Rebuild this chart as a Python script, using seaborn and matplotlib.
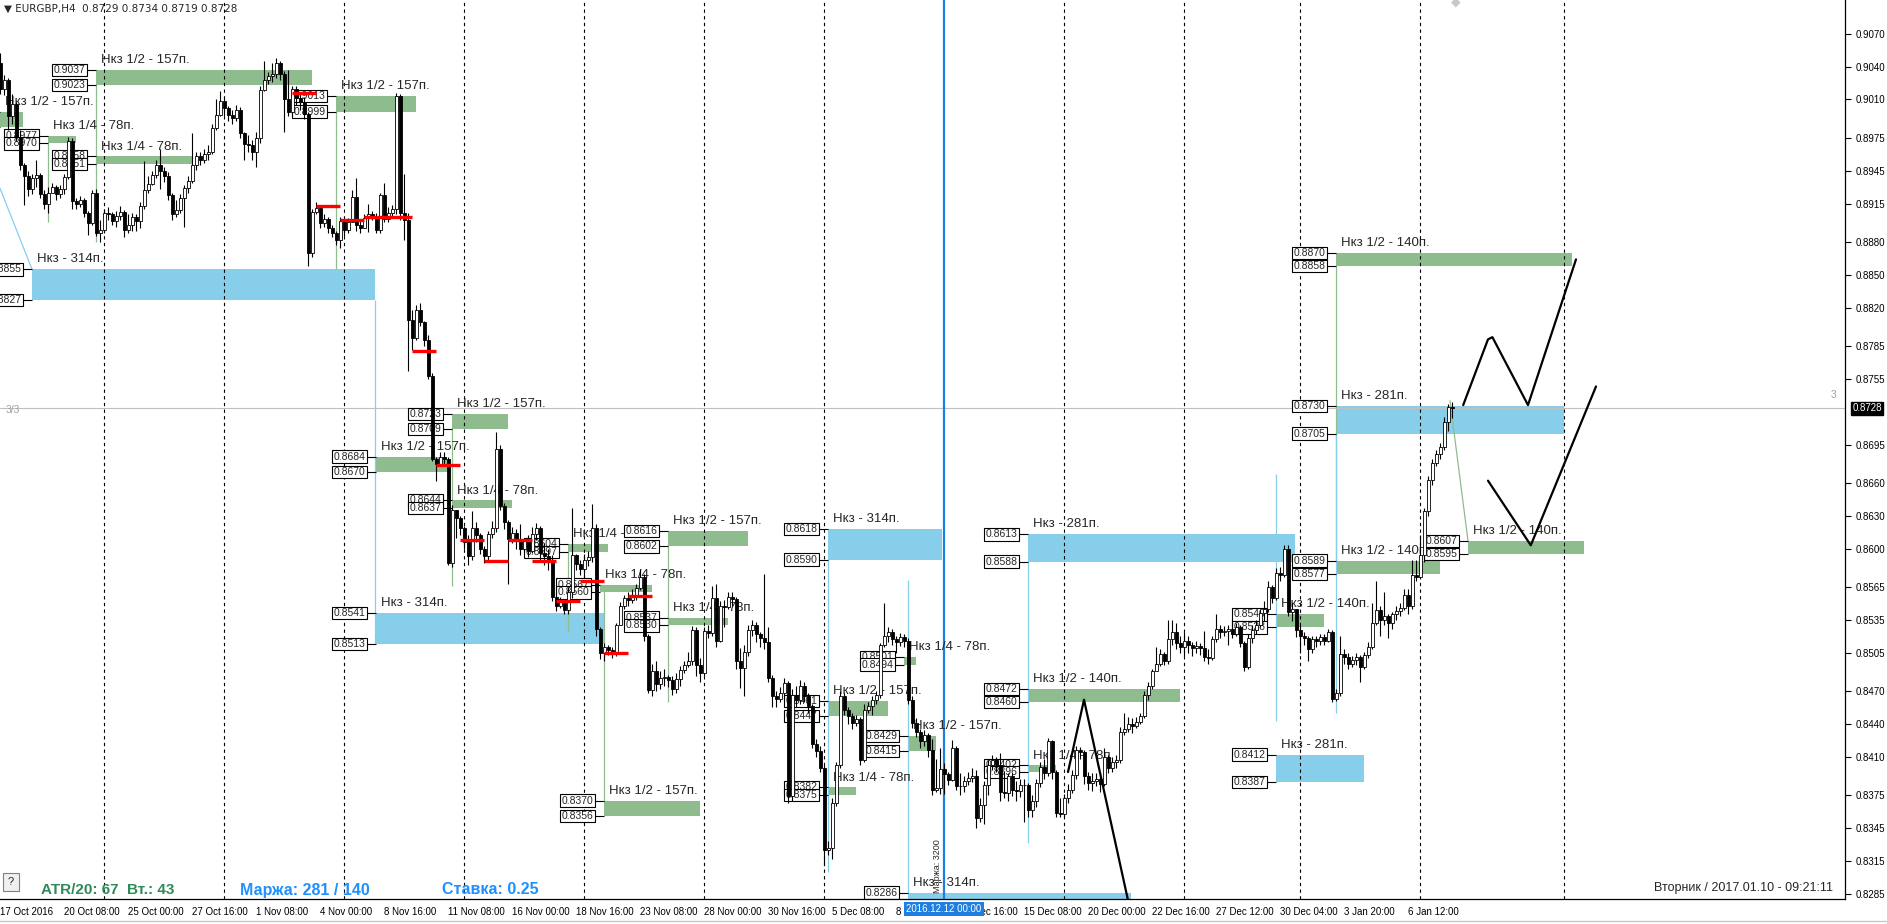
import matplotlib
matplotlib.use("Agg")
import matplotlib.pyplot as plt
import matplotlib.transforms as mtransforms
from matplotlib.patches import Rectangle
import seaborn as sns

# EURGBP H4 candles, bar 0 = 17 Oct 16:00, prices in pips (9020 -> 0.9020)
first_open = 9043
close_pips = [
    9020, 9028, 8995, 9006, 8976, 8950, 8940, 8928, 8938, 8941,
    8924, 8915, 8925, 8930, 8924, 8928, 8939, 8972, 8917, 8915,
    8918, 8906, 8897, 8925, 8888, 8891, 8906, 8905, 8899, 8904,
    8907, 8891, 8895, 8903, 8899, 8913, 8927, 8933, 8941, 8950,
    8945, 8940, 8923, 8905, 8909, 8920, 8929, 8936, 8950, 8958,
    8955, 8960, 8962, 8984, 8996, 9009, 9002, 8996, 8993, 9000,
    8979, 8969, 8968, 8962, 8975, 9019, 9028, 9031, 9033, 9043,
    9033, 9010, 8999, 9020, 9011, 9008, 8997, 8870, 8907, 8911,
    8897, 8901, 8893, 8888, 8882, 8899, 8891, 8898, 8921, 8895,
    8893, 8902, 8905, 8904, 8891, 8923, 8901, 8906, 8910, 9013,
    8906, 8900, 8809, 8792, 8818, 8807, 8790, 8758, 8682, 8677,
    8684, 8682, 8587, 8635, 8628, 8619, 8606, 8593, 8619, 8612,
    8600, 8593, 8613, 8619, 8691, 8639, 8624, 8609, 8614, 8609,
    8600, 8607, 8598, 8613, 8619, 8596, 8593, 8590, 8556, 8548,
    8551, 8544, 8560, 8594, 8586, 8581, 8590, 8592, 8619, 8527,
    8505, 8510, 8507, 8506, 8530, 8548, 8555, 8553, 8558, 8564,
    8574, 8520, 8471, 8488, 8476, 8482, 8483, 8480, 8472, 8481,
    8489, 8494, 8497, 8526, 8494, 8486, 8525, 8523, 8555, 8516,
    8548, 8547, 8556, 8554, 8497, 8491, 8506, 8526, 8530, 8522,
    8518, 8515, 8482, 8465, 8463, 8468, 8477, 8374, 8466, 8462,
    8475, 8465, 8456, 8422, 8415, 8400, 8325, 8327, 8368, 8402,
    8465, 8453, 8447, 8441, 8444, 8407, 8453, 8456, 8462, 8466,
    8512, 8520, 8524, 8517, 8515, 8519, 8516, 8462, 8441, 8433,
    8424, 8430, 8416, 8380, 8381, 8399, 8394, 8389, 8418, 8383,
    8383, 8388, 8391, 8392, 8354, 8366, 8384, 8402, 8407, 8402,
    8378, 8377, 8392, 8380, 8379, 8384, 8384, 8361, 8370, 8386,
    8401, 8395, 8424, 8396, 8359, 8358, 8372, 8380, 8393, 8416,
    8414, 8392, 8386, 8388, 8390, 8385, 8410, 8400, 8405, 8407,
    8433, 8435, 8440, 8438, 8442, 8447, 8466, 8475, 8488, 8495,
    8504, 8497, 8517, 8524, 8514, 8510, 8516, 8512, 8509, 8511,
    8509, 8501, 8500, 8517, 8527, 8524, 8525, 8527, 8522, 8528,
    8514, 8492, 8518, 8526, 8530, 8541, 8545, 8565, 8555, 8578,
    8576, 8600, 8542, 8545, 8526, 8520, 8518, 8508, 8517, 8516,
    8519, 8516, 8524, 8463, 8468, 8504, 8501, 8495, 8498, 8501,
    8492, 8503, 8510, 8532, 8544, 8535, 8538, 8532, 8540, 8543,
    8546, 8558, 8548, 8576, 8574, 8594, 8634, 8663, 8678, 8686,
    8693, 8716, 8729, 8728,
]
high_pips = [
    9052, 9032, 9030, 9015, 9008, 8982, 8952, 8945, 8942, 8955,
    8943, 8927, 8930, 8934, 8932, 8932, 8942, 8976, 8975, 8920,
    8922, 8920, 8908, 8927, 8928, 8900, 8910, 8912, 8907, 8908,
    8913, 8909, 8905, 8906, 8905, 8916, 8954, 8940, 8945, 8955,
    8965, 8948, 8944, 8925, 8918, 8924, 8932, 8940, 8979, 8962,
    8962, 8965, 8968, 8988, 9010, 9018, 9012, 9004, 9000, 9005,
    9003, 8980, 8978, 8973, 8980, 9022, 9045, 9035, 9043, 9048,
    9045, 9036, 9037, 9022, 9022, 9015, 9012, 8999, 8910, 8916,
    8912, 8905, 8903, 8895, 8890, 8903, 8895, 8902, 8927, 8938,
    8900, 8905, 8915, 8908, 8906, 8925, 8934, 8912, 8914, 9016,
    9015, 8942, 8906, 8818, 8822, 8824, 8808, 8795, 8760, 8684,
    8688, 8688, 8684, 8640, 8632, 8630, 8621, 8612, 8634, 8624,
    8614, 8602, 8616, 8625, 8706, 8695, 8642, 8626, 8620, 8618,
    8622, 8610, 8612, 8620, 8623, 8621, 8605, 8600, 8594, 8560,
    8556, 8552, 8565, 8637, 8595, 8590, 8595, 8598, 8641, 8622,
    8528, 8514, 8512, 8510, 8532, 8551, 8558, 8560, 8563, 8568,
    8581, 8577, 8522, 8495, 8497, 8488, 8490, 8485, 8484, 8486,
    8493, 8497, 8506, 8529, 8528, 8500, 8528, 8530, 8566, 8568,
    8552, 8553, 8560, 8560, 8556, 8509, 8512, 8530, 8535, 8533,
    8524, 8577, 8528, 8485, 8470, 8474, 8482, 8479, 8472, 8475,
    8480, 8478, 8468, 8458, 8426, 8420, 8402, 8333, 8372, 8405,
    8470, 8468, 8455, 8450, 8448, 8446, 8458, 8460, 8465, 8470,
    8514, 8550, 8528, 8527, 8520, 8523, 8522, 8518, 8465, 8445,
    8435, 8434, 8432, 8426, 8408, 8418, 8404, 8396, 8425, 8420,
    8395, 8392, 8396, 8400, 8398, 8372, 8388, 8407, 8412, 8410,
    8413, 8397, 8395, 8395, 8388, 8390, 8390, 8386, 8375, 8390,
    8405, 8408, 8427, 8425, 8398, 8372, 8376, 8385, 8398, 8420,
    8419, 8416, 8396, 8395, 8395, 8396, 8418, 8412, 8410, 8412,
    8437, 8450, 8446, 8445, 8446, 8450, 8470, 8478, 8490, 8510,
    8508, 8506, 8535, 8535, 8532, 8520, 8524, 8520, 8515, 8516,
    8514, 8525, 8508, 8520, 8540, 8530, 8529, 8530, 8535, 8532,
    8530, 8516, 8522, 8530, 8535, 8545, 8552, 8570, 8567, 8582,
    8583, 8603, 8603, 8550, 8536, 8530, 8524, 8520, 8520, 8520,
    8522, 8522, 8527, 8526, 8472, 8520, 8508, 8505, 8502, 8505,
    8503, 8506, 8515, 8550, 8570, 8548, 8560, 8540, 8542, 8548,
    8550, 8563, 8563, 8590, 8590, 8612, 8637, 8666, 8682, 8690,
    8696, 8720, 8732, 8734,
]
low_pips = [
    9015, 9014, 8982, 8988, 8972, 8946, 8914, 8922, 8924, 8930,
    8920, 8910, 8906, 8925, 8918, 8920, 8924, 8937, 8910, 8910,
    8912, 8903, 8886, 8895, 8885, 8880, 8888, 8900, 8895, 8894,
    8900, 8884, 8888, 8890, 8890, 8893, 8910, 8925, 8932, 8938,
    8928, 8935, 8918, 8900, 8903, 8906, 8894, 8925, 8934, 8946,
    8950, 8952, 8955, 8960, 8982, 8995, 8995, 8990, 8988, 8990,
    8975, 8955, 8962, 8955, 8948, 8970, 9018, 9024, 9026, 9030,
    9028, 8980, 8995, 8995, 9005, 9000, 8992, 8858, 8866, 8905,
    8893, 8894, 8888, 8884, 8877, 8874, 8885, 8888, 8898, 8890,
    8888, 8896, 8889, 8900, 8888, 8888, 8898, 8898, 8903, 8905,
    8900, 8882, 8762, 8781, 8790, 8803, 8785, 8755, 8680, 8662,
    8675, 8676, 8585, 8583, 8610, 8612, 8600, 8585, 8590, 8606,
    8595, 8587, 8590, 8610, 8615, 8635, 8618, 8568, 8605, 8600,
    8594, 8598, 8592, 8596, 8608, 8590, 8585, 8580, 8552, 8543,
    8546, 8540, 8540, 8555, 8580, 8576, 8574, 8584, 8588, 8520,
    8499, 8497, 8503, 8500, 8502, 8530, 8545, 8548, 8550, 8553,
    8562, 8516, 8468, 8465, 8470, 8472, 8475, 8474, 8466, 8468,
    8475, 8486, 8492, 8494, 8484, 8478, 8484, 8518, 8520, 8510,
    8515, 8528, 8545, 8548, 8490, 8473, 8465, 8502, 8520, 8515,
    8510, 8508, 8478, 8455, 8455, 8460, 8462, 8368, 8370, 8455,
    8458, 8460, 8450, 8418, 8410, 8396, 8311, 8320, 8317, 8365,
    8400, 8448, 8440, 8435, 8438, 8402, 8405, 8450, 8448, 8458,
    8464, 8510, 8515, 8512, 8505, 8511, 8510, 8458, 8436, 8428,
    8418, 8420, 8410, 8375, 8378, 8376, 8376, 8384, 8388, 8380,
    8375, 8378, 8384, 8387, 8345, 8350, 8349, 8375, 8398, 8396,
    8370, 8372, 8370, 8374, 8370, 8373, 8350, 8355, 8355, 8364,
    8382, 8390, 8392, 8390, 8355, 8355, 8355, 8368, 8377, 8390,
    8408, 8385, 8380, 8379, 8383, 8378, 8383, 8395, 8396, 8400,
    8404, 8430, 8433, 8432, 8436, 8440, 8445, 8462, 8472, 8488,
    8493, 8494, 8495, 8512, 8508, 8505, 8502, 8505, 8502, 8505,
    8503, 8497, 8495, 8498, 8515, 8518, 8520, 8512, 8518, 8520,
    8510, 8488, 8490, 8514, 8522, 8528, 8534, 8542, 8550, 8553,
    8570, 8574, 8538, 8534, 8519, 8505, 8512, 8497, 8505, 8510,
    8512, 8512, 8515, 8460, 8461, 8465, 8495, 8490, 8492, 8494,
    8478, 8490, 8500, 8508, 8530, 8520, 8530, 8518, 8527, 8535,
    8538, 8544, 8540, 8545, 8570, 8575, 8588, 8630, 8658, 8675,
    8682, 8690, 8707, 8719,
]

# time axis labels (bar index)
xtick_bars = [0, 16, 32, 48, 64, 80, 96, 112, 128, 144, 160, 176, 192, 208, 224,
              240, 256, 272, 288, 304, 320, 336, 352]
xtick_text = ["17 Oct 2016", "20 Oct 08:00", "25 Oct 00:00", "27 Oct 16:00", "1 Nov 08:00",
              "4 Nov 00:00", "8 Nov 16:00", "11 Nov 08:00", "16 Nov 00:00", "18 Nov 16:00",
              "23 Nov 08:00", "28 Nov 00:00", "30 Nov 16:00", "5 Dec 08:00", "8 Dec 00:00",
              "12 Dec 16:00", "15 Dec 08:00", "20 Dec 00:00", "22 Dec 16:00", "27 Dec 12:00",
              "30 Dec 04:00", "3 Jan 20:00", "6 Jan 12:00"]
price_ticks = [9070, 9040, 9010, 8975, 8945, 8915, 8880, 8850, 8820, 8785, 8755,
               8695, 8660, 8630, 8600, 8565, 8535, 8505, 8470, 8440, 8410, 8375,
               8345, 8315, 8285]
last_price = 8728

# weekly separators and the marked vertical line
sep_bars = [26, 56, 86, 116, 146, 176, 206, 266, 296, 325, 355, 391]
marker_bar = 236

# zones: start/end bar, top/bottom price, kind (g = green, b = blue), caption
zone_start = [24, 0, 12, 24, 8, 84, 113, 94, 113, 94, 142, 167, 150, 167, 151,
              207, 207, 207, 226, 227, 227, 257, 257, 257, 319, 319, 334, 334, 334, 367]
zone_end = [78, 5.75, 19, 48.25, 93.75, 104, 127, 111.75, 128, 151, 152, 187, 163, 182, 175,
            235.5, 214, 222, 229, 234, 282.75, 323.75, 295, 264, 331, 341, 393, 391, 360, 396]
zone_top = [9037, 8999, 8977, 8958, 8855, 9013, 8723, 8684, 8644, 8541, 8604, 8616, 8567, 8537, 8370,
            8618, 8382, 8461, 8501, 8429, 8286, 8613, 8472, 8402, 8540, 8412, 8870, 8730, 8589, 8607]
zone_bottom = [9023, 8985, 8970, 8951, 8827, 8999, 8709, 8670, 8637, 8513, 8597, 8602, 8560, 8530, 8356,
               8590, 8375, 8447, 8494, 8415, 8258, 8588, 8460, 8396, 8528, 8387, 8858, 8705, 8577, 8595]
zone_kind = ["g", "g", "g", "g", "b", "g", "g", "g", "g", "b", "g", "g", "g", "g", "g",
             "b", "g", "g", "g", "g", "b", "b", "g", "g", "g", "b", "g", "b", "g", "g"]
zone_text = ["Нкз 1/2 - 157п.", "Нкз 1/2 - 157п.", "Нкз 1/4 - 78п.", "Нкз 1/4 - 78п.", "Нкз - 314п.",
             "Нкз 1/2 - 157п.", "Нкз 1/2 - 157п.", "Нкз 1/2 - 157п.", "Нкз 1/4 - 78п.", "Нкз - 314п.",
             "Нкз 1/4 - 78п.", "Нкз 1/2 - 157п.", "Нкз 1/4 - 78п.", "Нкз 1/4 - 78п.", "Нкз 1/2 - 157п.",
             "Нкз - 314п.", "Нкз 1/4 - 78п.", "Нкз 1/2 - 157п.", "Нкз 1/4 - 78п.", "Нкз 1/2 - 157п.",
             "Нкз - 314п.", "Нкз - 281п.", "Нкз 1/2 - 140п.", "Нкз 1/4 - 78п.", "Нкз 1/2 - 140п.",
             "Нкз - 281п.", "Нкз 1/2 - 140п.", "Нкз - 281п.", "Нкз 1/2 - 140п.", "Нкз 1/2 - 140п."]

# thin vertical guide lines: bar, price from, price to, kind
guide_bar = [24, 12, 93.75, 84, 113, 167, 151, 207, 227, 257, 319, 334, 334, 142]
guide_from = [9023, 8970, 8827, 8999, 8709, 8602, 8562, 8590, 8571, 8588, 8668, 8858, 8705, 8597]
guide_to = [8880, 8898, 8513, 8855, 8566, 8460, 8370, 8305, 8286, 8331, 8443, 8589, 8450, 8525]
guide_kind = ["g", "g", "b", "g", "g", "g", "g", "b", "b", "b", "b", "g", "b", "g"]

# diagonal guides
diag_bars = [[0, 8], [362.5, 367]]
diag_prices = [[8929, 8855], [8735, 8607]]
diag_kind = ["b", "g"]

# red daily levels
red_start = [73, 79, 85, 91, 103, 109, 115, 121, 127, 133, 139, 145, 151, 157]
red_end = [79, 85, 91, 103, 109, 115, 121, 127, 133, 139, 145, 151, 157, 163]
red_price = [9016, 8913, 8900, 8903, 8780, 8676, 8608, 8589, 8608, 8589, 8552, 8570, 8505, 8557]

# hand drawn forecast zigzags
zz1_bars = [267, 271, 282]
zz1_prices = [8396, 8462, 8279]
zz2_bars = [365.8, 372, 373.1, 382, 394]
zz2_prices = [8731, 8791, 8793, 8731, 8864]
zz3_bars = [372, 382.7, 399]
zz3_prices = [8662, 8603, 8748]

GREEN = "#8FBC8F"
BLUE = "#87CEEB"
W, H = 1887, 924

sns.set_style("white")
plt.rcParams["font.family"] = ["Liberation Sans", "DejaVu Sans"]

fig = plt.figure(figsize=(W / 100, H / 100), dpi=100)
ax = fig.add_axes([0, 25 / H, 1845 / W, 899 / H])
ax.set_xlim(0, 461.25)
ax.set_ylim(8280.1, 9100.8)

# zones with price boxes
for s, e, t, b, k, txt in zip(zone_start, zone_end, zone_top, zone_bottom, zone_kind, zone_text):
    col = GREEN if k == "g" else BLUE
    ax.add_patch(Rectangle((s, b), e - s, t - b, facecolor=col, edgecolor="none", zorder=1))
    ax.text(s + 1.25, t + 9, txt, fontsize=9.5, ha="left", va="center", zorder=2.5, clip_on=True)
    for p in (t, b):
        ax.hlines(p, s - 2.25, s, color="black", lw=0.8, zorder=2.5)
        ax.text(s - 6.6, p, f"{p / 10000:.4f}", fontsize=7.5, ha="center", va="center",
                zorder=2.5, clip_on=True,
                bbox=dict(boxstyle="square,pad=0.12", fc="white", ec="black", lw=0.8))

for xb, p0, p1, k in zip(guide_bar, guide_from, guide_to, guide_kind):
    ax.vlines(xb, p1, p0, color=GREEN if k == "g" else BLUE, lw=0.9, zorder=1.5)
for xs, ps, k in zip(diag_bars, diag_prices, diag_kind):
    ax.plot(xs, ps, color=GREEN if k == "g" else BLUE, lw=0.9, zorder=1.5)

# separators
for xb in sep_bars:
    ax.axvline(xb, color="black", lw=0.8, ls=(0, (3, 3)), zorder=2)
ax.axvline(marker_bar, color="#1E7FE0", lw=1.6, zorder=2)
ax.axhline(last_price, color="#C0C0C0", lw=0.8, zorder=1.6)

# candles
opens = [first_open] + close_pips[:-1]
bars_x = list(range(len(close_pips)))
lows = [min(l, o, c) for l, o, c in zip(low_pips, opens, close_pips)]
highs = [max(h, o, c) for h, o, c in zip(high_pips, opens, close_pips)]
ax.vlines(bars_x, lows, highs, color="black", lw=0.8, zorder=3)
body_bottom = [min(o, c) for o, c in zip(opens, close_pips)]
body_height = [max(abs(c - o), 0.6) for o, c in zip(opens, close_pips)]
body_col = ["white" if c >= o else "black" for o, c in zip(opens, close_pips)]
ax.bar(bars_x, body_height, bottom=body_bottom, width=0.75, color=body_col,
       edgecolor="black", linewidth=0.6, zorder=3.1)

for s, e, p in zip(red_start, red_end, red_price):
    ax.hlines(p, s, e, color="red", lw=2.4, zorder=4)

for xs, ps in ((zz1_bars, zz1_prices), (zz2_bars, zz2_prices), (zz3_bars, zz3_prices)):
    sns.lineplot(x=xs, y=ps, sort=False, estimator=None, color="black", lw=1.6, ax=ax, zorder=4)

# axes styling
for side in ("top", "left"):
    ax.spines[side].set_visible(False)
for side in ("right", "bottom"):
    ax.spines[side].set_color("black")
    ax.spines[side].set_linewidth(0.9)
ax.yaxis.tick_right()
ax.set_yticks(price_ticks)
ax.set_yticklabels([f"{p / 10000:.4f}" for p in price_ticks], fontsize=7)
ax.set_xticks(xtick_bars)
ax.set_xticklabels(xtick_text, fontsize=7, ha="left")
ax.tick_params(axis="both", direction="out", length=4, width=0.8, colors="black", pad=2)
ax.tick_params(axis="y", pad=4)
ax.set_xlabel("")
ax.set_ylabel("")

ytrans = mtransforms.blended_transform_factory(ax.transAxes, ax.transData)
ax.text(1.004, last_price, f"{last_price / 10000:.4f}", transform=ytrans, fontsize=7,
        color="white", ha="left", va="center", zorder=6, clip_on=False,
        bbox=dict(boxstyle="square,pad=0.15", fc="black", ec="black"))


def fx(px):
    return px / W


def fy(py):
    return 1 - py / H


fig.text(fx(4), fy(9), "▼ EURGBP,H4  0.8729 0.8734 0.8719 0.8728", fontsize=7.5, va="center",
         family=["DejaVu Sans"])
fig.text(fx(6), fy(410), "3/3", fontsize=7.5, color="#A0A0A0", va="center")
fig.text(fx(1836), fy(395), "3", fontsize=7.5, color="#A0A0A0", va="center", ha="right")
fig.text(fx(1456), fy(2), "◆", fontsize=9, color="#C8C8C8", ha="center", va="center")

fig.text(fx(11), fy(882), "?", fontsize=8, ha="center", va="center",
         bbox=dict(boxstyle="square,pad=0.4", fc="#F0F0F0", ec="#808080", lw=0.8))
fig.text(fx(41), fy(890), "ATR/20: 67  Вт.: 43", fontsize=11, color="#2E8B57",
         fontweight="bold", va="center")
fig.text(fx(240), fy(890), "Маржа: 281 / 140", fontsize=11.5, color="#1E90FF",
         fontweight="bold", va="center")
fig.text(fx(442), fy(890), "Ставка: 0.25", fontsize=11.5, color="#1E90FF",
         fontweight="bold", va="center")
fig.text(fx(1833), fy(888), "Вторник / 2017.01.10 - 09:21:11", fontsize=9, ha="right", va="center")
fig.text(fx(938), fy(866), "Маржа: 3200", fontsize=6.5, rotation=90, ha="center", va="center")
fig.text(fx(944), fy(909), "2016.12.12 00:00", fontsize=7, color="white", ha="center", va="center",
         bbox=dict(boxstyle="square,pad=0.2", fc="#1E7FE0", ec="none"))
fig.add_artist(plt.Line2D([0, 1], [fy(921), fy(921)], color="#C8C8C8", lw=1))

fig.savefig("out.png", dpi=100, facecolor="white")
